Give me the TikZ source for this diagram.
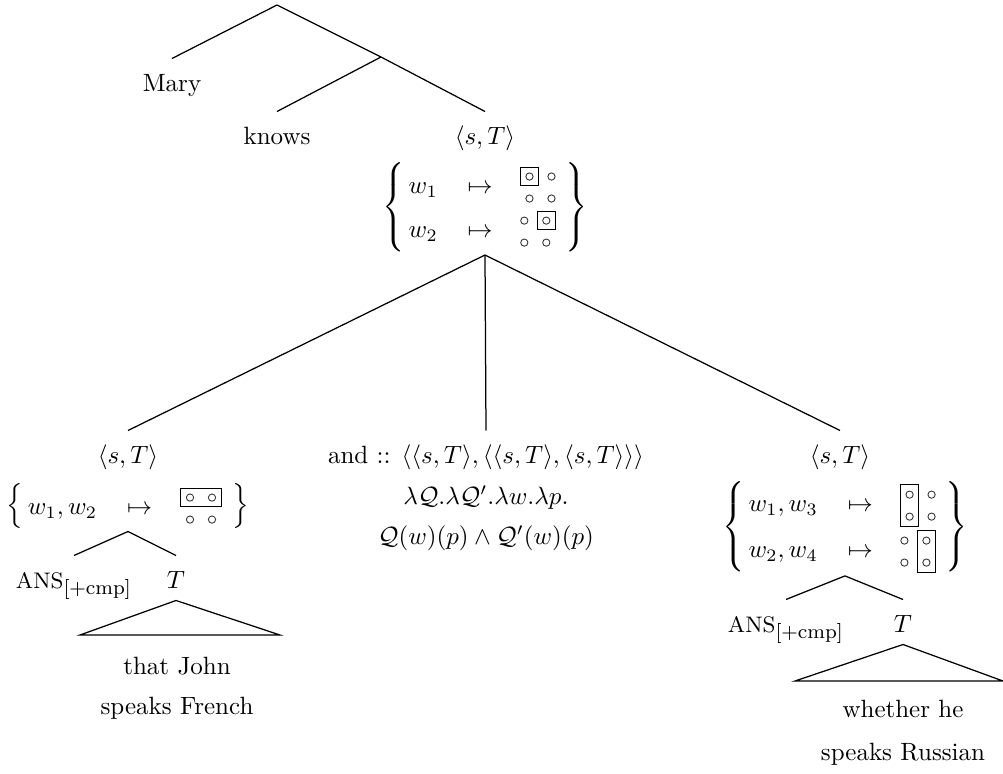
\documentclass[tikz,border=0pt]{standalone}
\usepackage{amsmath,amssymb}
\usetikzlibrary{positioning}

\renewcommand{\arraystretch}{1.47}
% 2x2 grid of worlds, #1 = the highlighted cell(s)
\newcommand{\dotgrid}[1]{%
  \begin{tikzpicture}[x=8.8pt,y=8.8pt,baseline=-6.9pt,line width=0.35pt]
    \foreach \i in {0,1} \foreach \j in {0,1} \draw[black!80] (\i,-\j) circle[radius=1.45pt];
    \draw #1;
  \end{tikzpicture}}
\newcommand{\setof}[1]{\left\{\begin{array}{@{\,}l@{\hspace{12pt}}c@{\hspace{11pt}}c@{\hspace{4pt}}}#1\end{array}\right\}}
\newcommand{\ans}{{\small ANS}$_{\text{\footnotesize[+cmp]}}$}

\begin{document}
\begin{tikzpicture}[x=0.4pt,y=-0.4pt,
  lbl/.style={anchor=base, inner sep=0pt, outer sep=0pt, text height=13pt, text depth=5pt},
  setnode/.style={inner sep=1pt},
  leaf/.style={align=center, inner sep=0pt},
  branch/.style={line width=0.5pt}
]
\useasboundingbox (0,0) rectangle (1003,774);

% upper part
\coordinate (root) at (277,5);
\coordinate (vbar) at (381,57);
\node[lbl] (mary) at (172,91) {Mary};
\node[lbl] (knows) at (277,144) {knows};
\node[lbl] (top) at (485,144) {$\langle s,T\rangle$};
\node[setnode, below=1pt of top] (topset) {$\setof{w_1 & \mapsto & \dotgrid{(-0.4,0.4) rectangle (0.4,-0.4)}\\
  w_2 & \mapsto & \dotgrid{(0.6,0.4) rectangle (1.4,-0.4)}}$};

\draw[branch] (root) -- (mary.north);
\draw[branch] (root) -- (vbar) -- (top.north);
\draw[branch] (vbar) -- (knows.north);

% coordination
\node[lbl] (stl) at (128,463) {$\langle s,T\rangle$};
\node[lbl] (conj) at (486,463) {and :: $\langle\langle s,T\rangle,\langle\langle s,T\rangle,\langle s,T\rangle\rangle\rangle$};
\node[lbl] (str) at (840,463) {$\langle s,T\rangle$};
\node[leaf, below=4pt of conj] (lam) {$\lambda\mathcal{Q}.\lambda\mathcal{Q}'.\lambda w.\lambda p.$\\[4pt]
  $\mathcal{Q}(w)(p)\wedge\mathcal{Q}'(w)(p)$};

\draw[branch] (topset.south) -- (stl.north);
\draw[branch] (topset.south) -- (conj.north);
\draw[branch] (topset.south) -- (str.north);

% left conjunct
\node[setnode, below=2pt of stl] (lset) {$\setof{w_1,w_2 & \mapsto & \dotgrid{(-0.45,0.4) rectangle (1.45,-0.4)}}$};
\node[lbl] (ansl) at (74,588) {\ans};
\node[lbl] (tl) at (176,588) {$T$};
\draw[branch] (lset.south) -- (ansl.north);
\draw[branch] (lset.south) -- (tl.north);
\coordinate (tla) at (80,635);
\coordinate (tlb) at (280,635);
\coordinate (tlm) at (177,635);
\draw[branch] (tl.south) -- (tla) -- (tlb) -- cycle;
\node[leaf, below=8.8pt of tlm] (fr) {that John\\[4pt]speaks French};

% right conjunct
\node[setnode, below=1pt of str, xshift=2pt] (rset) {$\setof{w_1,w_3 & \mapsto & \dotgrid{(-0.4,0.45) rectangle (0.4,-1.45)}\\
  w_2,w_4 & \mapsto & \dotgrid{(0.6,0.45) rectangle (1.4,-1.45)}}$};
\node[lbl] (ansr) at (786,632) {\ans};
\node[lbl] (tr) at (903,632) {$T$};
\draw[branch] (rset.south) -- (ansr.north);
\draw[branch] (rset.south) -- (tr.north);
\coordinate (tra) at (795,681);
\coordinate (trb) at (1003,681);
\coordinate (trm) at (903,681);
\draw[branch] (tr.south) -- (tra) -- (trb) -- cycle;
\node[leaf, below=7.6pt of trm] (ru) {whether he\\[5pt]speaks Russian};
\end{tikzpicture}
\end{document}
